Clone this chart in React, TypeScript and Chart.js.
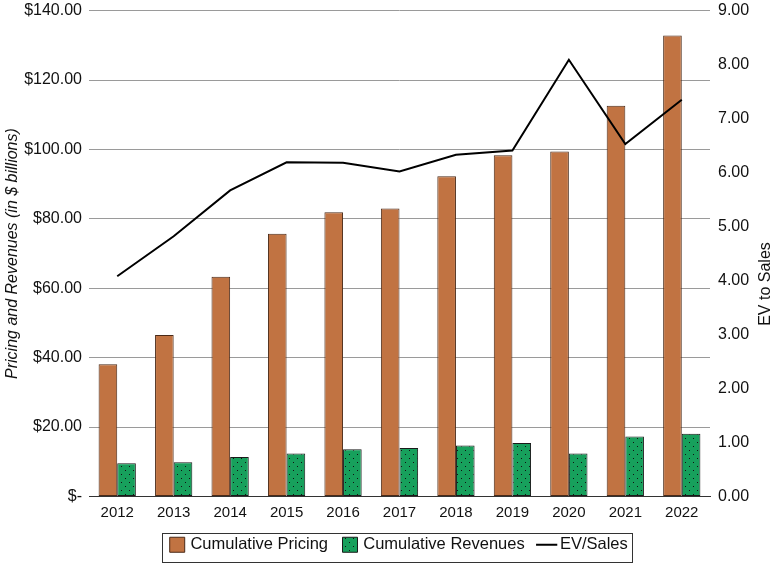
import { useEffect, useRef } from "react";
import { Chart, registerables } from "chart.js";

Chart.register(...registerables);

const years = ["2012", "2013", "2014", "2015", "2016", "2017", "2018", "2019", "2020", "2021", "2022"];
const cumulativePricing = [38.1, 46.5, 63.3, 75.7, 81.9, 83.0, 92.3, 98.3, 99.4, 112.6, 132.8];
const cumulativeRevenues = [9.6, 9.9, 11.4, 12.4, 13.6, 14.0, 14.7, 15.4, 12.4, 17.3, 18.1];
const evToSales = [4.08, 4.82, 5.67, 6.19, 6.18, 6.02, 6.33, 6.41, 8.09, 6.53, 7.35];

const FONT = "'Liberation Sans', Arial, Helvetica, sans-serif";
const ORANGE = "#c17342";
const GREEN = "#17a05c";
const SHIFT = 7; // canvas is pushed up so the top grid line sits near the window edge
const PAD_LEFT = 24; // moves the legend right; the left axis is narrowed by the same amount

function makeDots(): CanvasPattern | string {
  const tile = document.createElement("canvas");
  tile.width = 8;
  tile.height = 8;
  const c = tile.getContext("2d");
  if (!c) return GREEN;
  c.fillStyle = GREEN;
  c.fillRect(0, 0, 8, 8);
  c.fillStyle = "#111";
  c.fillRect(1, 1, 1, 1);
  c.fillRect(5, 5, 1, 1);
  const p = c.createPattern(tile, "repeat");
  return p || GREEN;
}

// frame round the legend, and the right axis title read bottom to top
const extras = {
  id: "extras",
  afterDraw(chart: any) {
    const ctx = chart.ctx;
    const boxes = chart.legend?.legendHitBoxes;
    if (boxes && boxes.length) {
      const left = Math.min(...boxes.map((b: any) => b.left)) - 10;
      const right = Math.max(...boxes.map((b: any) => b.left + b.width)) + 4;
      const top = boxes[0].top - 4;
      const bottom = boxes[0].top + boxes[0].height + 8;
      ctx.save();
      ctx.strokeStyle = "#333";
      ctx.lineWidth = 1;
      ctx.strokeRect(Math.round(left) + 0.5, Math.round(top) + 0.5, Math.round(right - left), Math.round(bottom - top));
      ctx.restore();
    }
    const y1 = chart.scales.y1;
    if (y1) {
      ctx.save();
      ctx.translate(y1.right - 10, 284 + SHIFT);
      ctx.rotate(-Math.PI / 2);
      ctx.font = `16px ${FONT}`;
      ctx.fillStyle = "#111";
      ctx.textAlign = "center";
      ctx.textBaseline = "middle";
      ctx.fillText("EV to Sales", 0, 0);
      ctx.restore();
    }
  },
};

export default function App() {
  const canvasRef = useRef<HTMLCanvasElement>(null);
  const chartRef = useRef<Chart | null>(null);

  useEffect(() => {
    document.body.style.margin = "0";
    if (!canvasRef.current) return;
    if (chartRef.current) chartRef.current.destroy();

    const dots = makeDots();

    chartRef.current = new Chart(canvasRef.current, {
      type: "bar",
      data: {
        labels: years,
        datasets: [
          {
            type: "bar",
            label: "Cumulative Pricing",
            data: cumulativePricing,
            backgroundColor: ORANGE,
            borderColor: "#4a2a18",
            borderWidth: 1,
            borderSkipped: false,
            yAxisID: "y",
            order: 1,
          },
          {
            type: "bar",
            label: "Cumulative Revenues",
            data: cumulativeRevenues,
            backgroundColor: dots as any,
            borderColor: "#1a1a1a",
            borderWidth: 1,
            borderSkipped: false,
            yAxisID: "y",
            order: 1,
          },
          {
            type: "line",
            label: "EV/Sales",
            data: evToSales,
            borderColor: "#000",
            backgroundColor: "#000",
            borderWidth: 2,
            pointRadius: 0,
            tension: 0,
            yAxisID: "y1",
            order: 0,
          },
        ] as any,
      },
      options: {
        animation: false,
        responsive: true,
        maintainAspectRatio: false,
        layout: { padding: { left: PAD_LEFT, right: 0, top: 0, bottom: 0 } },
        datasets: {
          bar: { categoryPercentage: 0.66, barPercentage: 1 },
        } as any,
        plugins: {
          tooltip: { enabled: false },
          legend: {
            position: "bottom",
            labels: {
              font: { family: FONT, size: 16.5 },
              color: "#111",
              usePointStyle: true,
              boxWidth: 10,
              boxHeight: 15,
              padding: 17,
              sort: (a: any, b: any) => a.datasetIndex - b.datasetIndex,
              generateLabels: (chart: any) => {
                const items = Chart.defaults.plugins.legend.labels.generateLabels(chart);
                return items.map((it: any) => ({
                  ...it,
                  pointStyle: it.datasetIndex === 2 ? "line" : "rect",
                }));
              },
            },
          },
        },
        scales: {
          x: {
            grid: { display: false, drawTicks: false },
            border: { display: true, color: "#333", width: 1 },
            ticks: { font: { family: FONT, size: 15 }, color: "#111", padding: 7 },
            afterFit: (s: any) => {
              s.height = 23;
            },
          },
          y: {
            position: "left",
            min: 0,
            max: 140,
            grid: { color: "#9a9a9a", lineWidth: 1, drawTicks: false },
            border: { display: false },
            ticks: {
              stepSize: 20,
              padding: 7,
              font: { family: FONT, size: 16 },
              color: "#111",
              callback: (v: any) => (Number(v) === 0 ? "$-" : "$" + Number(v).toFixed(2)),
            },
            title: {
              display: true,
              text: "Pricing and Revenues (in $ billions)",
              font: { family: FONT, size: 16, style: "italic" },
              color: "#111",
              padding: { top: 3 - PAD_LEFT, bottom: 0 },
            },
            afterFit: (s: any) => {
              s.width = 89 - PAD_LEFT;
            },
          },
          y1: {
            position: "right",
            min: 0,
            max: 9,
            grid: { display: false, drawTicks: false },
            border: { display: false },
            ticks: {
              stepSize: 1,
              padding: 8,
              font: { family: FONT, size: 16 },
              color: "#111",
              callback: (v: any) => Number(v).toFixed(2),
            },
            afterFit: (s: any) => {
              s.width = 66;
            },
          },
        },
      },
      plugins: [extras],
    });

    return () => {
      if (chartRef.current) {
        chartRef.current.destroy();
        chartRef.current = null;
      }
    };
  }, []);

  return (
    <div style={{ position: "relative", width: 776, height: 563, overflow: "hidden", background: "#fff" }}>
      <div style={{ position: "absolute", left: 0, top: -SHIFT, width: 776, height: 563 + SHIFT }}>
        <canvas ref={canvasRef}></canvas>
      </div>
    </div>
  );
}
